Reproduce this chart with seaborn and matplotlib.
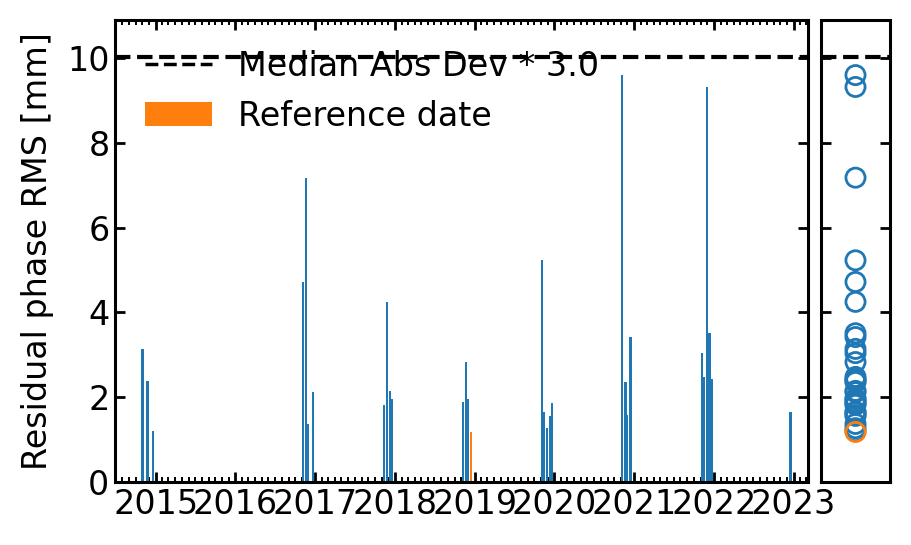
import numpy as np
import pandas as pd
import matplotlib
matplotlib.use("Agg")
import matplotlib.pyplot as plt
import matplotlib.dates as mdates
from matplotlib.lines import Line2D
from matplotlib.patches import Patch
import seaborn as sns

# ---------------------------------------------------
# DATA
# ---------------------------------------------------

obs_dates = [
    "2014-11-02", "2014-11-25", "2014-12-18",
    "2016-11-04", "2016-11-18", "2016-11-27", "2016-12-20",
    "2017-11-10", "2017-11-24", "2017-12-08", "2017-12-17",
    "2018-11-07", "2018-11-21", "2018-11-30", "2018-12-14",
    "2019-11-04", "2019-11-13", "2019-11-27", "2019-12-11", "2019-12-20",
    "2020-11-08", "2020-11-22", "2020-12-01", "2020-12-15",
    "2021-11-06", "2021-11-15", "2021-11-29", "2021-12-12", "2021-12-21",
    "2022-12-18",
]
rms_mm = [
    3.14, 2.38, 1.20,
    4.72, 7.18, 1.37, 2.12,
    1.82, 4.25, 2.15, 1.96,
    1.89, 2.83, 1.96, 1.18,
    5.23, 1.65, 1.27, 1.56, 1.86,
    9.60, 2.36, 1.58, 3.42,
    3.04, 2.48, 9.32, 3.51, 2.43,
    1.65,
]
reference_date = "2018-12-14"
mad_threshold = 10.03
x_range = ["2014-06-29", "2023-03-08"]
y_range = [0, 10.9]

BLUE = "#1f77b4"
ORANGE = "#ff7f0e"

# ---------------------------------------------------
# THEME
# ---------------------------------------------------

sns.set_style("ticks")
plt.rcParams["font.family"] = ["DejaVu Sans"]
plt.rcParams.update({
    "font.size": 24,
    "axes.linewidth": 2.2,
    "axes.edgecolor": "black",
    "axes.labelcolor": "black",
    "text.color": "black",
    "xtick.color": "black",
    "ytick.color": "black",
})

df = pd.DataFrame({"date": pd.to_datetime(obs_dates), "rms": rms_mm})
df["is_ref"] = df["date"] == pd.Timestamp(reference_date)
df["num"] = mdates.date2num(df["date"])

fig = plt.figure(figsize=(9.11, 5.45), dpi=100)
W, H = 911, 545
ax = fig.add_axes([115 / W, 1 - 482 / H, (808 - 115) / W, (482 - 20) / H])
ax2 = fig.add_axes([821 / W, 1 - 482 / H, (890 - 821) / W, (482 - 20) / H])

# ---------------------------------------------------
# MAIN PANEL: BARS OVER TIME
# ---------------------------------------------------

normal = df[~df["is_ref"]]
ref = df[df["is_ref"]]
ax.bar(normal["num"], normal["rms"], width=9.5, color=BLUE,
       edgecolor="none", linewidth=0)
ax.bar(ref["num"], ref["rms"], width=9.5, color=ORANGE,
       edgecolor="none", linewidth=0)
ax.axhline(mad_threshold, color="black", linestyle="--", linewidth=3)

ax.set_xlim(mdates.date2num(pd.to_datetime(x_range[0])),
            mdates.date2num(pd.to_datetime(x_range[1])))
ax.set_ylim(*y_range)
ax.xaxis.set_major_locator(mdates.YearLocator())
ax.xaxis.set_minor_locator(mdates.MonthLocator())
ax.xaxis.set_major_formatter(mdates.DateFormatter("%Y"))
ax.set_yticks([0, 2, 4, 6, 8, 10])
ax.tick_params(which="both", direction="in", top=True, right=True)
ax.tick_params(which="major", length=7, width=2, pad=4)
ax.tick_params(which="minor", length=3.5, width=1.4)
ax.set_ylabel("Residual phase RMS [mm]", labelpad=9)

handles = [
    Line2D([], [], color="black", linestyle="--", linewidth=2.5),
    Patch(facecolor=ORANGE, edgecolor="none"),
]
ax.legend(handles, ["Median Abs Dev * 3.0", "Reference date"],
          loc="upper left", frameon=False)

# ---------------------------------------------------
# SIDE PANEL: DISTRIBUTION OF VALUES
# ---------------------------------------------------

sns.scatterplot(x=np.zeros(len(normal)), y=normal["rms"], ax=ax2,
                facecolors="none", edgecolor=BLUE, linewidth=2, s=190)
sns.scatterplot(x=np.zeros(len(ref)), y=ref["rms"], ax=ax2,
                facecolors="none", edgecolor=ORANGE, linewidth=2, s=190)
ax2.axhline(mad_threshold, color="black", linestyle="--", linewidth=3)
ax2.set_xlim(-1, 1)
ax2.set_ylim(*y_range)
ax2.set_yticks([0, 2, 4, 6, 8, 10])
ax2.set_xticks([])
ax2.set_xlabel("")
ax2.set_ylabel("")
ax2.tick_params(axis="y", direction="in", left=True, right=True,
                labelleft=False, length=7, width=2)

fig.savefig("out.png", dpi=100)
